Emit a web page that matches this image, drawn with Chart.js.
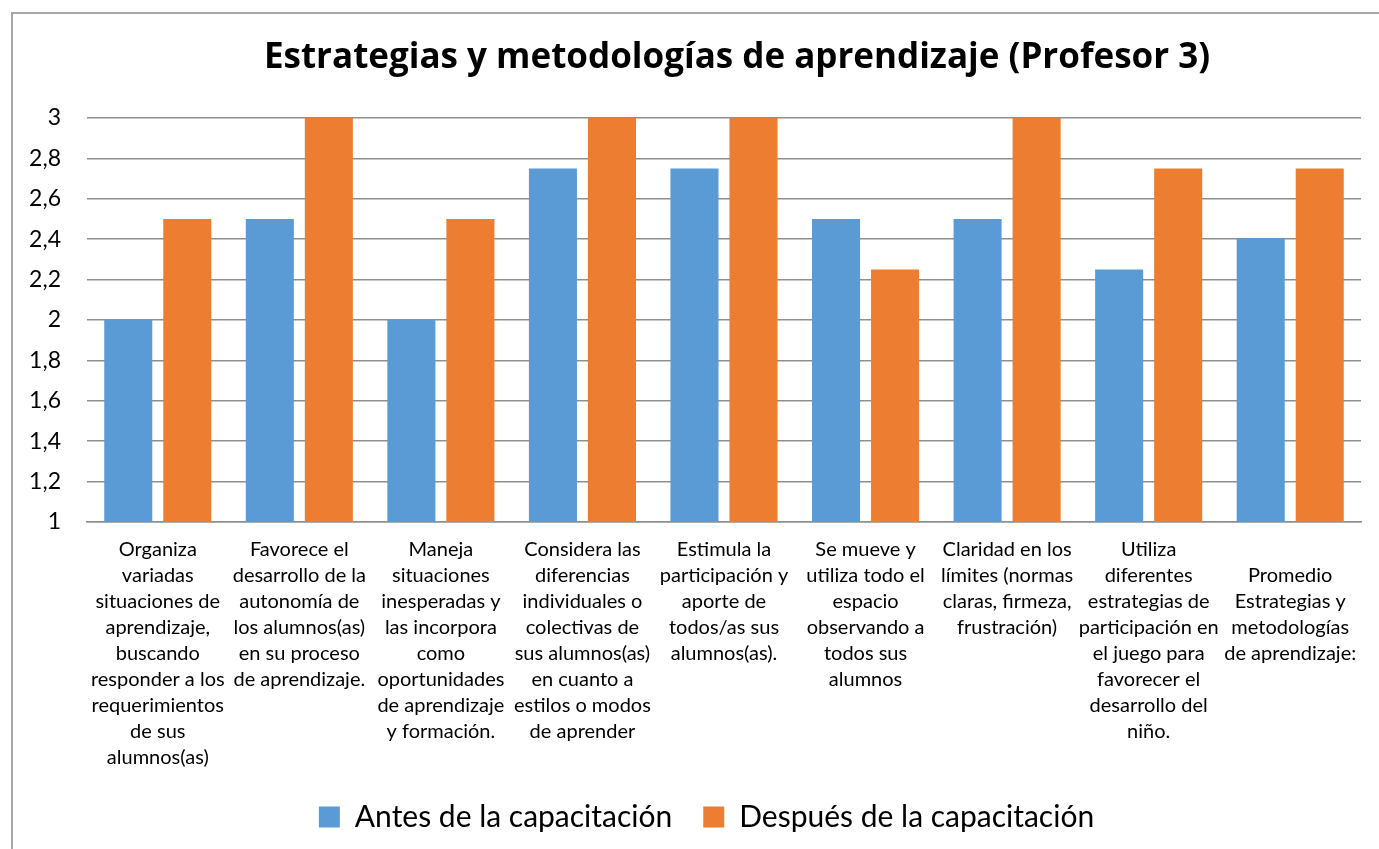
<!DOCTYPE html>
<html>
<head>
<meta charset="utf-8">
<title>Estrategias y metodologías de aprendizaje</title>
<script src="https://cdn.jsdelivr.net/npm/chart.js@4.4.1/dist/chart.umd.min.js"></script>
<style>
  html, body {
    margin: 0;
    padding: 0;
    background: #fff;
    overflow: hidden;
  }
  .frame {
    position: absolute;
    left: 11px;
    top: 12px;
    width: 1500px;
    height: 900px;
    border-left: 2px solid #a8a8a8;
    border-top: 2px solid #a8a8a8;
  }
  #chart {
    position: absolute;
    left: 0;
    top: 0;
  }
</style>
</head>
<body>
<div class="frame"></div>
<canvas id="chart" width="1379" height="849"></canvas>
<script>
// chart data
const chartTitle = "Estrategias y metodologías de aprendizaje (Profesor 3)";

const categories = [
  ["Organiza", "variadas", "situaciones de", "aprendizaje,", "buscando", "responder a los", "requerimientos", "de sus", "alumnos(as)"],
  ["Favorece el", "desarrollo de la", "autonomía de", "los alumnos(as)", "en su proceso", "de aprendizaje."],
  ["Maneja", "situaciones", "inesperadas y", "las incorpora", "como", "oportunidades", "de aprendizaje", "y formación."],
  ["Considera las", "diferencias", "individuales o", "colectivas de", "sus alumnos(as)", "en cuanto a", "estilos o modos", "de aprender"],
  ["Estimula la", "participación y", "aporte de", "todos/as sus", "alumnos(as)."],
  ["Se mueve y", "utiliza todo el", "espacio", "observando a", "todos sus", "alumnos"],
  ["Claridad en los", "límites (normas", "claras, firmeza,", "frustración)"],
  ["Utiliza", "diferentes", "estrategias de", "participación en", "el juego para", "favorecer el", "desarrollo del", "niño."],
  ["", "Promedio", "Estrategias y", "metodologías", "de aprendizaje:"],
];

const seriesNames = ["Antes de la capacitación", "Después de la capacitación"];
const antes = [2, 2.5, 2, 2.75, 2.75, 2.5, 2.5, 2.25, 2.40625];
const despues = [2.5, 3, 2.5, 3, 3, 2.25, 3, 2.75, 2.75];

const yTickLabels = ["1", "1,2", "1,4", "1,6", "1,8", "2", "2,2", "2,4", "2,6", "2,8", "3"];

const BLUE = "#5b9bd5";
const ORANGE = "#ed7d31";
const GRID = "#8f8f8f";

// title drawn a bit right of the canvas centre, like the original sheet
const titlePlugin = {
  id: "sheetTitle",
  afterDraw(chart) {
    const ctx = chart.ctx;
    ctx.save();
    ctx.font = "bold 35px 'Open Sans'";
    ctx.fillStyle = "#000";
    ctx.textAlign = "center";
    ctx.textBaseline = "alphabetic";
    ctx.fillText(chartTitle, 737, 68);
    ctx.restore();
  },
};

// nudge the legend row to the right
const legendShift = {
  id: "legendShift",
  afterLayout(chart) {
    chart.legend.left += 16;
    chart.legend.right += 16;
  },
};

const ctx = document.getElementById("chart").getContext("2d");

new Chart(ctx, {
  type: "bar",
  data: {
    labels: categories,
    datasets: [
      {
        label: seriesNames[0],
        data: antes,
        backgroundColor: BLUE,
        categoryPercentage: 0.834,
        barPercentage: 0.814,
      },
      {
        label: seriesNames[1],
        data: despues,
        backgroundColor: ORANGE,
        categoryPercentage: 0.834,
        barPercentage: 0.814,
      },
    ],
  },
  options: {
    responsive: false,
    animation: false,
    layout: {
      padding: { top: 118, left: 20, right: 18, bottom: 7 },
    },
    plugins: {
      title: { display: false },
      tooltip: { enabled: false },
      legend: {
        position: "bottom",
        labels: {
          boxWidth: 21,
          boxHeight: 21,
          padding: 31,
          color: "#000",
          font: { family: "Lato", size: 30 },
        },
      },
    },
    scales: {
      x: {
        grid: { display: false, drawTicks: false },
        border: { display: true, color: GRID, width: 1.5 },
        ticks: {
          autoSkip: false,
          maxRotation: 0,
          minRotation: 0,
          padding: 15,
          color: "#000",
          font: { family: "Lato", size: 20, lineHeight: 1.3 },
        },
        afterFit(scale) {
          scale.height = 249;
        },
      },
      y: {
        min: 1,
        max: 3,
        border: { display: false },
        grid: { color: GRID, lineWidth: 1.5, drawTicks: false },
        ticks: {
          stepSize: 0.2,
          padding: 26,
          color: "#000",
          font: { family: "Lato", size: 23 },
          callback: (value, index) => yTickLabels[index],
        },
        afterFit(scale) {
          scale.width = 67;
        },
      },
    },
  },
  plugins: [titlePlugin, legendShift],
});
</script>
</body>
</html>
